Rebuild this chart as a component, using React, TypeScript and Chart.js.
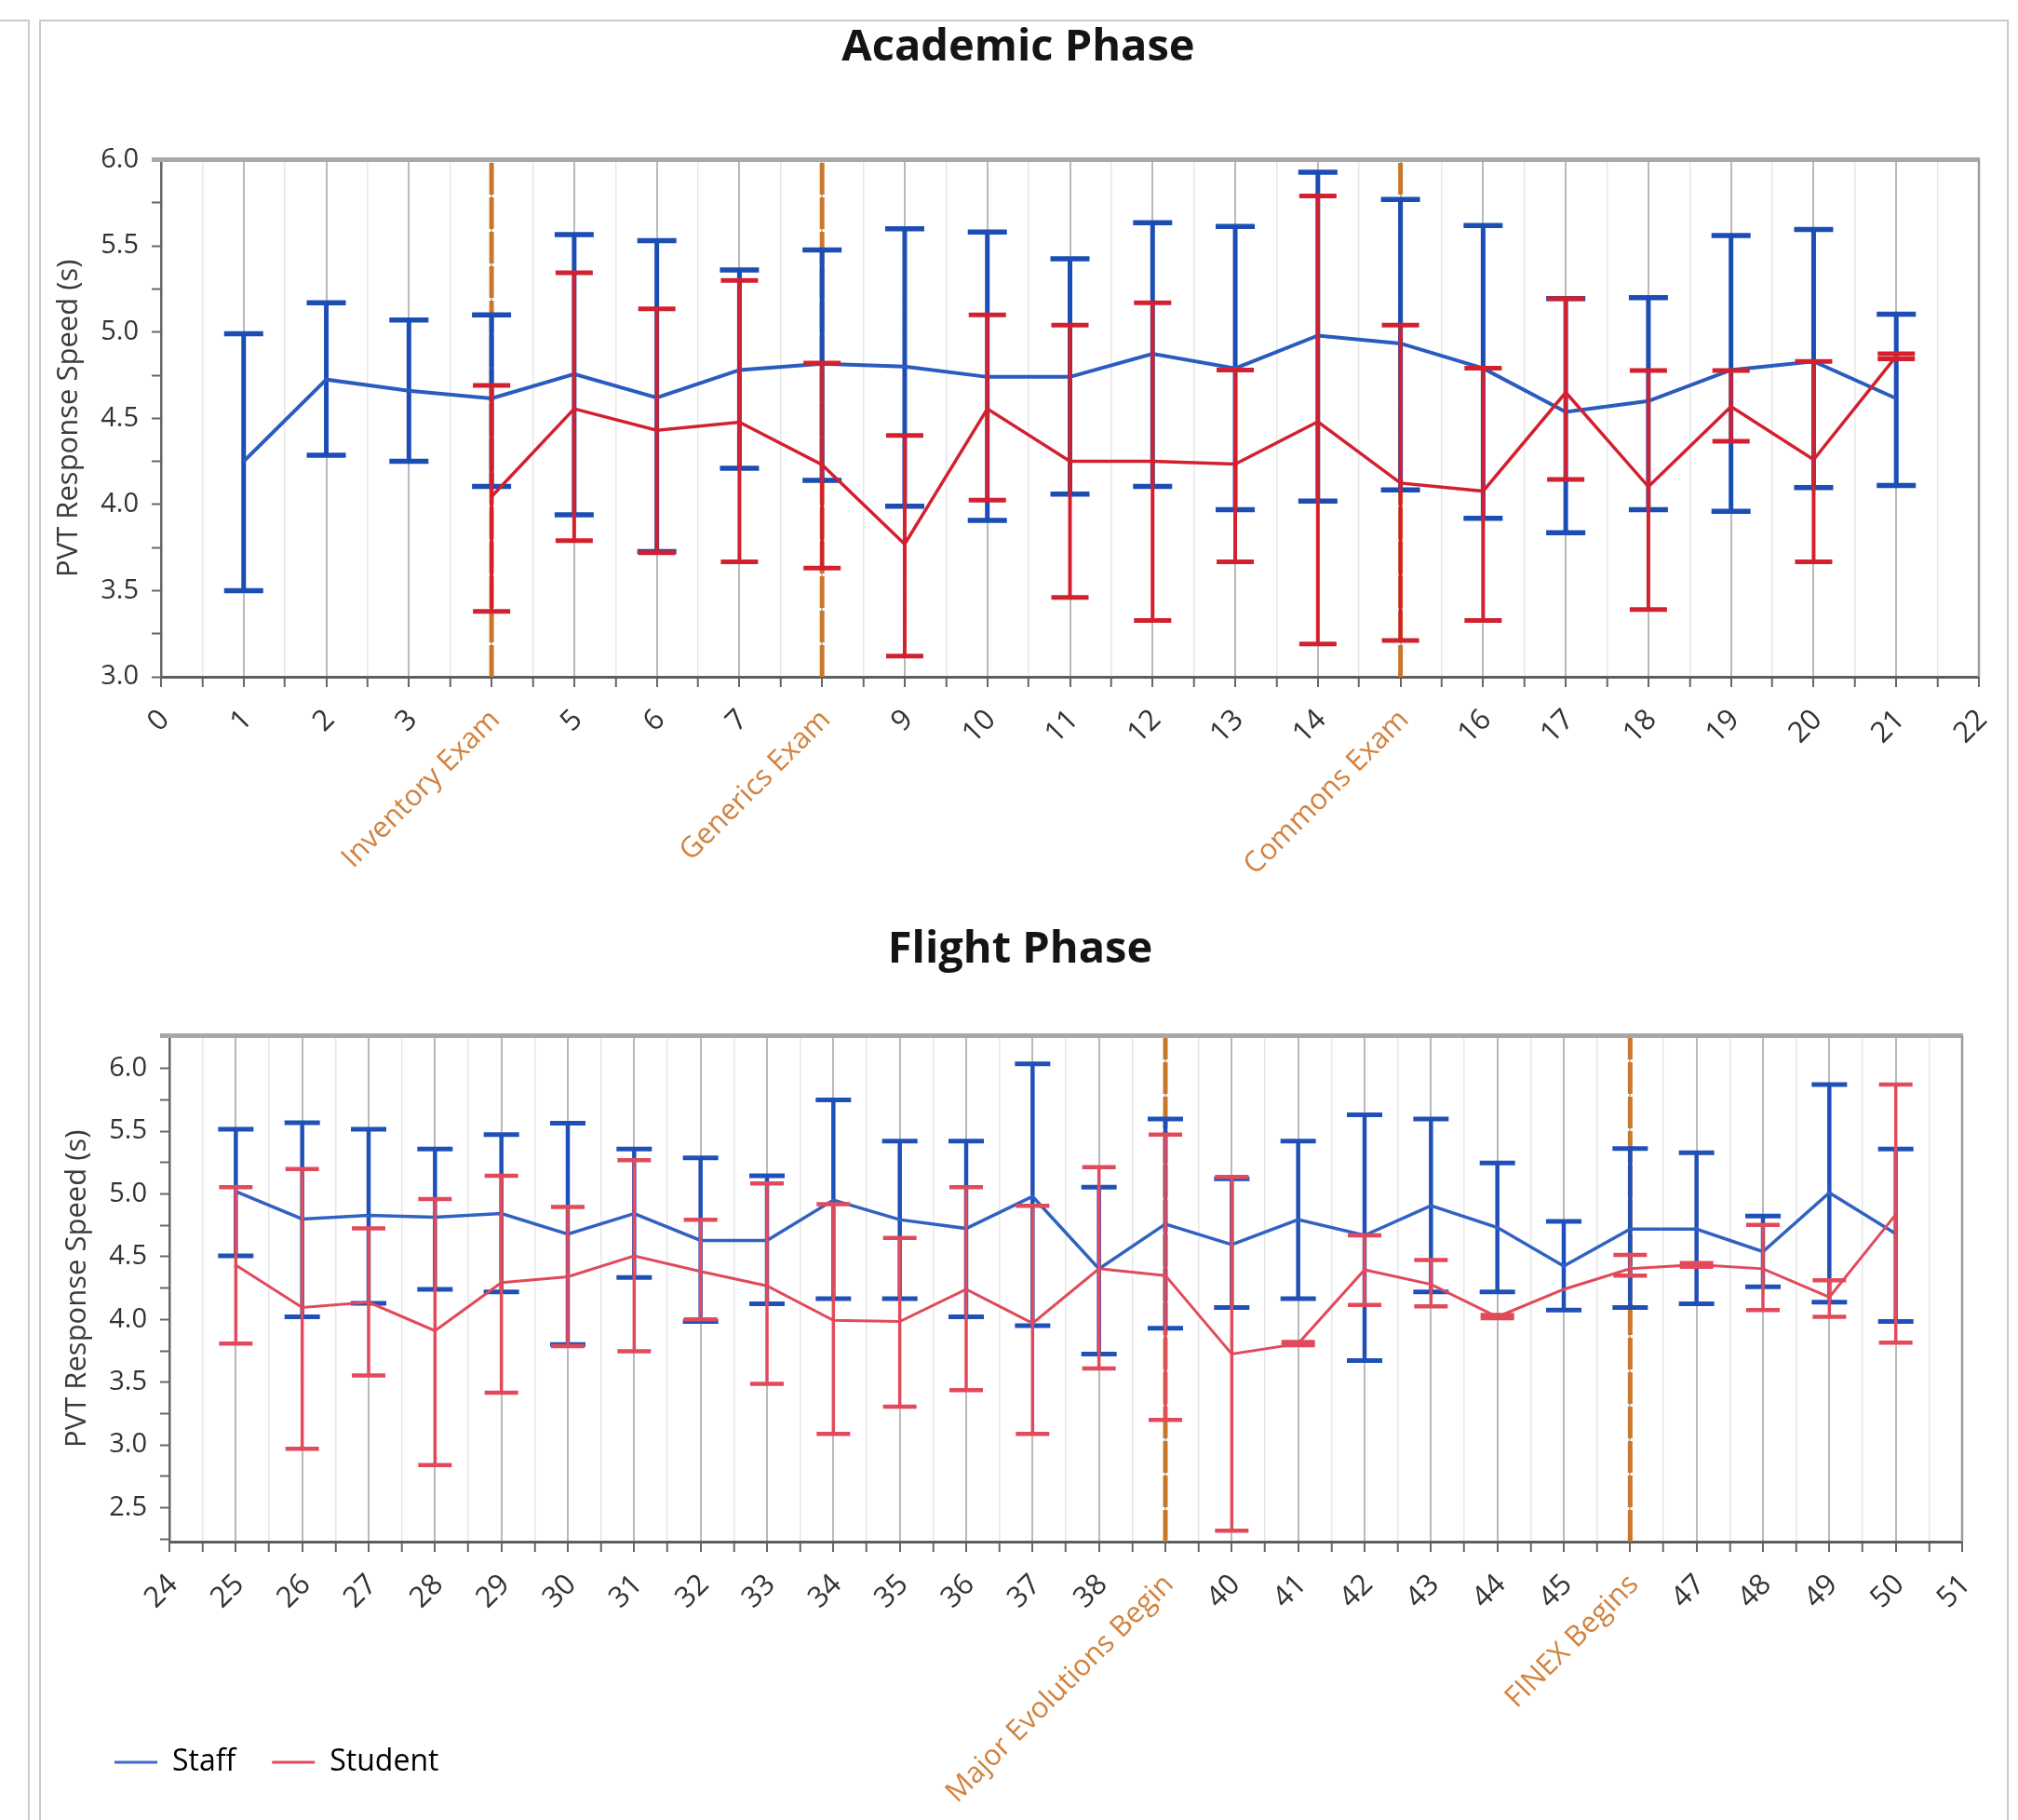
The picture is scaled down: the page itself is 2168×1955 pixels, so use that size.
import React, { useEffect, useRef } from 'react';
import { Chart, registerables } from 'chart.js';

Chart.register(...registerables);

const FONT = '"Open Sans", "Noto Sans", sans-serif';
Chart.defaults.font.family = FONT;

// ---------- Academic phase ----------
const academicWeeks = [1, 2, 3, 4, 5, 6, 7, 8, 9, 10, 11, 12, 13, 14, 15, 16, 17, 18, 19, 20, 21];
const staffAcademicMean = [4.25, 4.725, 4.66, 4.615, 4.756, 4.62, 4.78, 4.816, 4.8, 4.74, 4.74, 4.874, 4.79, 4.98, 4.934, 4.79, 4.537, 4.6, 4.78, 4.83, 4.615];
const staffAcademicLow = [3.5, 4.286, 4.25, 4.105, 3.94, 3.727, 4.21, 4.14, 3.99, 3.907, 4.06, 4.105, 3.97, 4.02, 4.085, 3.92, 3.836, 3.97, 3.96, 4.098, 4.11];
const staffAcademicHigh = [4.99, 5.17, 5.07, 5.1, 5.566, 5.53, 5.36, 5.477, 5.6, 5.58, 5.425, 5.634, 5.613, 5.927, 5.77, 5.618, 5.195, 5.2, 5.56, 5.595, 5.104];

const studentAcademicWeeks = [4, 5, 6, 7, 8, 9, 10, 11, 12, 13, 14, 15, 16, 17, 18, 19, 20, 21];
const studentAcademicMean = [4.045, 4.555, 4.43, 4.477, 4.23, 3.77, 4.555, 4.25, 4.25, 4.234, 4.48, 4.124, 4.077, 4.65, 4.103, 4.568, 4.26, 4.86];
const studentAcademicLow = [3.38, 3.79, 3.72, 3.667, 3.63, 3.12, 4.025, 3.46, 3.327, 3.667, 3.19, 3.21, 3.327, 4.145, 3.39, 4.367, 3.667, 4.845];
const studentAcademicHigh = [4.69, 5.344, 5.135, 5.3, 4.82, 4.4, 5.1, 5.04, 5.17, 4.78, 5.79, 5.04, 4.79, 5.195, 4.777, 4.777, 4.83, 4.875];

const academicEventWeeks = [4, 8, 15];
const academicEventLabels = ['Inventory Exam', 'Generics Exam', 'Commons Exam'];

// ---------- Flight phase ----------
const flightWeeks = [25, 26, 27, 28, 29, 30, 31, 32, 33, 34, 35, 36, 37, 38, 39, 40, 41, 42, 43, 44, 45, 46, 47, 48, 49, 50];
const staffFlightMean = [5.02, 4.8, 4.83, 4.815, 4.844, 4.68, 4.844, 4.63, 4.63, 4.951, 4.795, 4.725, 4.98, 4.404, 4.76, 4.596, 4.795, 4.67, 4.906, 4.733, 4.425, 4.72, 4.72, 4.54, 5.009, 4.683];
const staffFlightLow = [4.507, 4.021, 4.128, 4.24, 4.219, 3.8, 4.334, 3.984, 4.124, 4.165, 4.165, 4.021, 3.95, 3.725, 3.93, 4.095, 4.165, 3.672, 4.219, 4.219, 4.075, 4.095, 4.124, 4.26, 4.137, 3.984];
const staffFlightHigh = [5.515, 5.568, 5.515, 5.358, 5.473, 5.564, 5.358, 5.288, 5.144, 5.749, 5.42, 5.42, 6.037, 5.054, 5.597, 5.12, 5.42, 5.63, 5.597, 5.247, 4.782, 5.362, 5.329, 4.823, 5.872, 5.358];

const studentFlightMean = [4.433, 4.095, 4.137, 3.91, 4.293, 4.34, 4.507, 4.383, 4.268, 3.993, 3.984, 4.24, 3.97, 4.404, 4.35, 3.725, 3.807, 4.396, 4.28, 4.021, 4.24, 4.404, 4.437, 4.404, 4.178, 4.836];
const studentFlightLow: (number | null)[] = [3.807, 2.97, 3.553, 2.84, 3.417, 3.787, 3.746, 4.0, 3.487, 3.088, 3.306, 3.437, 3.088, 3.61, 3.2, 2.318, 3.795, 4.116, 4.104, 4.01, null, 4.35, 4.42, 4.075, 4.021, 3.816];
const studentFlightHigh: (number | null)[] = [5.054, 5.198, 4.725, 4.96, 5.144, 4.897, 5.268, 4.795, 5.083, 4.918, 4.65, 5.054, 4.906, 5.214, 5.473, 5.136, 3.82, 4.67, 4.474, 4.035, null, 4.515, 4.45, 4.754, 4.313, 5.872];

const flightEventWeeks = [39, 46];
const flightEventLabels = ['Major Evolutions Begin', 'FINEX Begins'];

const seriesNames = ['Staff', 'Student'];
const legendColors = ['#3d6dc6', '#e04a5a'];

const ORANGE_LINE = '#c9782b';
const ORANGE_TEXT = '#d2823f';
const TICK_TEXT = '#333333';

type Panel = {
  left: number; top: number; width: number; height: number;
  title: string; titlePadTop: number; titlePadBottom: number;
  padLeft: number; padRight: number; padBottom: number;
  yWidth: number; xHeight: number; yTitlePad: number;
  xMin: number; xMax: number; yMin: number; yMax: number; yLabelMin: number; yLabelMax: number;
  staffX: number[]; staffMean: number[]; staffLo: (number | null)[]; staffHi: (number | null)[];
  studentX: number[]; studentMean: number[]; studentLo: (number | null)[]; studentHi: (number | null)[];
  events: number[]; eventLabels: string[];
  blueBar: string; blueLine: string; red: string;
  blueBarW: number; blueCapW: number; blueCapR: number;
  redBarW: number; redCapW: number; redCapR: number;
  blueLineW: number; redLineW: number;
  legend: boolean;
};

function rangePairs(xs: number[], lo: (number | null)[], hi: (number | null)[]) {
  const out: { x: number; y: number | null }[] = [];
  xs.forEach((x, i) => {
    if (lo[i] == null || hi[i] == null) return;
    out.push({ x, y: lo[i] }, { x, y: hi[i] }, { x, y: null });
  });
  return out;
}

const framePlugin = {
  id: 'frame',
  afterLayout(chart: any) {
    // let the rotated x labels run down to the canvas bottom (no clipping at the legend)
    const xs = chart.scales.x;
    if (xs) xs.bottom = chart.height;
  },
  afterDraw(chart: any) {
    const { ctx, chartArea: a } = chart;
    ctx.save();
    ctx.strokeStyle = '#a8a8a8';
    ctx.lineWidth = 5;
    ctx.beginPath();
    ctx.moveTo(a.left - 10, a.top);
    ctx.lineTo(a.right + 1, a.top);
    ctx.stroke();
    ctx.strokeStyle = '#9c9c9c';
    ctx.lineWidth = 2.5;
    ctx.beginPath();
    ctx.moveTo(a.right, a.top);
    ctx.lineTo(a.right, a.bottom);
    ctx.stroke();
    ctx.restore();
  },
};

function buildConfig(p: Panel): any {
  const xTicks: number[] = [];
  for (let v = p.xMin; v <= p.xMax + 1e-9; v += 0.5) xTicks.push(v);
  const yTicks: number[] = [];
  for (let v = Math.ceil(p.yMin * 4 - 1e-9) / 4; v <= p.yMax + 1e-9; v += 0.25) yTicks.push(Math.round(v * 100) / 100);
  const isInt = (v: number) => Math.abs(v - Math.round(v)) < 1e-6;
  const eventIdx = (v: number) => p.events.findIndex((e) => Math.abs(e - v) < 1e-6);

  const datasets = [
    {
      label: 'events',
      data: rangePairs(p.events, p.events.map(() => p.yMin), p.events.map(() => p.yMax)),
      borderColor: ORANGE_LINE,
      borderWidth: 5,
      borderDash: [34, 3],
      pointRadius: 0,
      spanGaps: false,
      order: 10,
    },
    {
      label: 'Staff range',
      data: rangePairs(p.staffX, p.staffLo, p.staffHi),
      borderColor: p.blueBar,
      borderWidth: p.blueBarW,
      pointStyle: 'line',
      pointRadius: p.blueCapR,
      pointBorderWidth: p.blueCapW,
      pointBorderColor: p.blueBar,
      pointBackgroundColor: p.blueBar,
      spanGaps: false,
      order: 8,
    },
    {
      label: seriesNames[0],
      data: p.staffX.map((x, i) => ({ x, y: p.staffMean[i] })),
      borderColor: p.blueLine,
      borderWidth: p.blueLineW,
      pointRadius: 0,
      order: 7,
    },
    {
      label: 'Student range',
      data: rangePairs(p.studentX, p.studentLo, p.studentHi),
      borderColor: p.red,
      borderWidth: p.redBarW,
      pointStyle: 'line',
      pointRadius: p.redCapR,
      pointBorderWidth: p.redCapW,
      pointBorderColor: p.red,
      pointBackgroundColor: p.red,
      spanGaps: false,
      order: 6,
    },
    {
      label: seriesNames[1],
      data: p.studentX.map((x, i) => ({ x, y: p.studentMean[i] })),
      borderColor: p.red,
      borderWidth: p.redLineW,
      pointRadius: 0,
      order: 5,
    },
  ];

  return {
    type: 'line',
    data: { datasets },
    plugins: [framePlugin],
    options: {
      responsive: false,
      animation: false,
      events: [],
      layout: { padding: { left: p.padLeft, right: p.padRight, top: 0, bottom: p.padBottom } },
      plugins: {
        tooltip: { enabled: false },
        title: {
          display: true,
          text: p.title,
          color: '#141414',
          font: { family: FONT, size: 47, weight: 'bold' },
          padding: { top: p.titlePadTop, bottom: p.titlePadBottom },
        },
        legend: {
          display: p.legend,
          position: 'bottom',
          align: 'start',
          labels: {
            usePointStyle: true,
            pointStyleWidth: 46,
            padding: 39,
            color: '#333',
            font: { family: FONT, size: 32 },
            generateLabels: () =>
              seriesNames.map((name, i) => ({
                text: name,
                fillStyle: legendColors[i],
                strokeStyle: legendColors[i],
                lineWidth: 3,
                pointStyle: 'line',
                hidden: false,
                datasetIndex: i,
              })),
          },
        },
      },
      scales: {
        x: {
          type: 'linear',
          min: p.xMin,
          max: p.xMax,
          afterBuildTicks: (s: any) => {
            s.ticks = xTicks.map((value) => ({ value }));
          },
          afterFit: (s: any) => {
            s.height = p.xHeight;
            s.paddingLeft = 0;
            s.paddingRight = 0;
          },
          ticks: {
            autoSkip: false,
            minRotation: 45,
            maxRotation: 45,
            padding: 17,
            labelOffset: 4,
            font: { family: FONT, size: 31 },
            color: (c: any) => (c.tick && eventIdx(c.tick.value) >= 0 ? ORANGE_TEXT : TICK_TEXT),
            callback: (v: any) => {
              const n = Number(v);
              if (!isInt(n)) return '';
              const k = eventIdx(n);
              return k >= 0 ? p.eventLabels[k] : String(Math.round(n));
            },
          },
          grid: {
            drawOnChartArea: true,
            drawTicks: true,
            tickLength: 11,
            color: (c: any) => (c.tick && isInt(c.tick.value) ? '#b9b9b9' : '#e7e7e7'),
            lineWidth: (c: any) => (c.tick && isInt(c.tick.value) ? 2 : 1.5),
            tickColor: '#666',
            tickWidth: 2,
          },
          border: { display: true, color: '#5e5e5e', width: 3 },
        },
        y: {
          type: 'linear',
          min: p.yMin,
          max: p.yMax,
          afterBuildTicks: (s: any) => {
            s.ticks = yTicks.map((value) => ({ value }));
          },
          afterFit: (s: any) => {
            s.width = p.yWidth;
            s.paddingTop = 0;
            s.paddingBottom = 0;
          },
          ticks: {
            autoSkip: false,
            padding: 14,
            color: TICK_TEXT,
            font: { family: FONT, size: 29 },
            callback: (v: any) => {
              const n = Number(v);
              if (Math.abs(n * 2 - Math.round(n * 2)) > 1e-6) return '';
              if (n < p.yLabelMin - 1e-6 || n > p.yLabelMax + 1e-6) return '';
              return n.toFixed(1);
            },
          },
          grid: { drawOnChartArea: false, drawTicks: true, tickLength: 10, tickColor: '#666', tickWidth: 2 },
          border: { display: true, color: '#666', width: 2.5 },
          title: {
            display: true,
            text: 'PVT Response Speed (s)',
            color: '#3a3a3a',
            font: { family: FONT, size: 31 },
            padding: { top: p.yTitlePad, bottom: 0 },
          },
        },
      },
    },
  };
}

const academicPanel: Panel = {
  left: 44, top: 23, width: 2111, height: 962,
  title: 'Academic Phase', titlePadTop: 0.4, titlePadBottom: 91.8,
  padLeft: 18, padRight: 29, padBottom: 0,
  yWidth: 111, xHeight: 258, yTitlePad: -6.6,
  xMin: 0, xMax: 22, yMin: 3, yMax: 6, yLabelMin: 3, yLabelMax: 6,
  staffX: academicWeeks, staffMean: staffAcademicMean, staffLo: staffAcademicLow, staffHi: staffAcademicHigh,
  studentX: studentAcademicWeeks, studentMean: studentAcademicMean, studentLo: studentAcademicLow, studentHi: studentAcademicHigh,
  events: academicEventWeeks, eventLabels: academicEventLabels,
  blueBar: '#1b4db5', blueLine: '#2a5bbf', red: '#d3202f',
  blueBarW: 5, blueCapW: 5.5, blueCapR: 21,
  redBarW: 4, redCapW: 5, redCapR: 20,
  blueLineW: 4, redLineW: 3.5,
  legend: false,
};

const flightPanel: Panel = {
  left: 44, top: 985, width: 2111, height: 970,
  title: 'Flight Phase', titlePadTop: 7.4, titlePadBottom: 63.8,
  padLeft: 40, padRight: 47, padBottom: 36,
  yWidth: 98, xHeight: 182, yTitlePad: -19.6,
  xMin: 24, xMax: 51, yMin: 2.23, yMax: 6.26, yLabelMin: 2.5, yLabelMax: 6,
  staffX: flightWeeks, staffMean: staffFlightMean, staffLo: staffFlightLow, staffHi: staffFlightHigh,
  studentX: flightWeeks, studentMean: studentFlightMean, studentLo: studentFlightLow, studentHi: studentFlightHigh,
  events: flightEventWeeks, eventLabels: flightEventLabels,
  blueBar: '#1f50b8', blueLine: '#3062c2', red: '#e14a5b',
  blueBarW: 4.5, blueCapW: 5, blueCapR: 19,
  redBarW: 3.5, redCapW: 4.5, redCapR: 18,
  blueLineW: 3.5, redLineW: 3,
  legend: true,
};

function ChartPanel({ cfg }: { cfg: Panel }) {
  const ref = useRef<HTMLCanvasElement>(null);
  useEffect(() => {
    const chart = new Chart(ref.current as HTMLCanvasElement, buildConfig(cfg));
    return () => chart.destroy();
  }, [cfg]);
  return (
    <canvas
      ref={ref}
      width={cfg.width}
      height={cfg.height}
      style={{ position: 'absolute', left: cfg.left, top: cfg.top, width: cfg.width, height: cfg.height }}
    />
  );
}

export default function App() {
  return (
    <div
      style={{
        position: 'absolute',
        left: 0,
        top: 0,
        width: 2168,
        height: 1955,
        overflow: 'hidden',
        background: '#ffffff',
      }}
    >
      <div
        style={{
          position: 'absolute',
          left: -4,
          top: 21,
          width: 36,
          height: 2000,
          boxSizing: 'border-box',
          border: '2px solid #cbcbcb',
        }}
      />
      <div
        style={{
          position: 'absolute',
          left: 42,
          top: 21,
          width: 2116,
          height: 2000,
          boxSizing: 'border-box',
          border: '2px solid #cbcbcb',
        }}
      />
      <ChartPanel cfg={academicPanel} />
      <ChartPanel cfg={flightPanel} />
    </div>
  );
}
